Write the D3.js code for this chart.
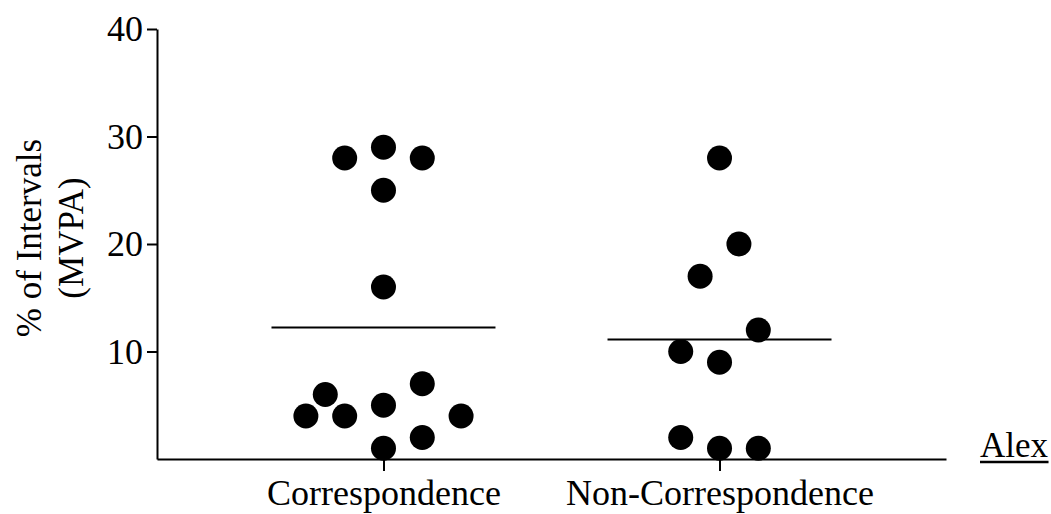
<!DOCTYPE html>
<html>
<head>
<meta charset="utf-8">
<script src="https://cdn.jsdelivr.net/npm/d3@7"></script>
<style>
  html, body { margin: 0; padding: 0; background: #fff; }
  svg { display: block; }
  text { font-family: "Liberation Serif", "Times New Roman", serif; fill: #000; }
</style>
</head>
<body>
<svg id="chart" width="1051" height="514"></svg>
<script>
// ---- data ----
const categories = ["Correspondence", "Non-Correspondence"];
const correspondenceValues = [29, 28, 28, 25, 16, 7, 6, 5, 4, 4, 4, 2, 1];
const correspondenceJitter = [0, -2, 2, 0, 0, 2, -3, 0, -4, -2, 4, 2, 0];
const nonCorrespondenceValues = [28, 20, 17, 12, 10, 9, 2, 1, 1];
const nonCorrespondenceJitter = [0, 1, -1, 2, -2, 0, -2, 0, 2];
const yTickValues = [10, 20, 30, 40];
const yTitleLines = ["% of Intervals", "(MVPA)"];
const subjectLabel = "Alex";

const groups = [
  { cat: categories[0], values: correspondenceValues, jitter: correspondenceJitter },
  { cat: categories[1], values: nonCorrespondenceValues, jitter: nonCorrespondenceJitter }
];

// ---- layout ----
const svg = d3.select("#chart");
const fontSize = 35;
const tickFontSize = 36;

const y = d3.scaleLinear().domain([0, 40]).range([459, 29]);
const x = d3.scalePoint().domain(categories).range([157, 946]).padding(0.674);
const jit = d3.scaleLinear().domain([0, 1]).range([0, 19.4]);
const meanHalf = 112;
const r = 12.5;

// y axis
const yAxis = svg.append("g")
  .attr("transform", "translate(157,0)")
  .call(d3.axisLeft(y).tickValues(yTickValues).tickSize(10).tickSizeOuter(0).tickPadding(4));
yAxis.select(".domain").attr("stroke", "#000").attr("stroke-width", 2);
yAxis.selectAll(".tick line").attr("stroke", "#000").attr("stroke-width", 2);
yAxis.selectAll(".tick text")
  .style("font-family", '"Liberation Serif", "Times New Roman", serif')
  .style("font-size", tickFontSize + "px").attr("fill", "#000");

// x axis
const xAxis = svg.append("g")
  .attr("transform", "translate(0,459)")
  .call(d3.axisBottom(x).tickSize(12).tickSizeOuter(0).tickPadding(8));
xAxis.select(".domain").attr("stroke", "#000").attr("stroke-width", 2);
xAxis.selectAll(".tick line").attr("stroke", "#000").attr("stroke-width", 2);
xAxis.selectAll(".tick text")
  .style("font-family", '"Liberation Serif", "Times New Roman", serif')
  .style("font-size", tickFontSize + "px").attr("fill", "#000");

// y title
const yTitle = svg.append("text")
  .attr("transform", "translate(41,238) rotate(-90)")
  .attr("text-anchor", "middle")
  .style("font-size", fontSize + "px");
yTitle.selectAll("tspan").data(yTitleLines).join("tspan")
  .attr("x", 0)
  .attr("dy", (d, i) => i === 0 ? 0 : "1.2em")
  .text(d => d);

// points + mean lines
groups.forEach(g => {
  const cx = x(g.cat);
  svg.append("g").selectAll("circle")
    .data(g.values.map((v, i) => ({ v, j: g.jitter[i] })))
    .join("circle")
    .attr("cx", d => cx + jit(d.j))
    .attr("cy", d => y(d.v))
    .attr("r", r)
    .attr("fill", "#000");
  const m = d3.mean(g.values);
  svg.append("line")
    .attr("x1", cx - meanHalf).attr("x2", cx + meanHalf)
    .attr("y1", y(m)).attr("y2", y(m))
    .attr("stroke", "#000").attr("stroke-width", 2);
});

// subject label with underline
const lab = svg.append("text")
  .attr("x", 980).attr("y", 457)
  .style("font-size", fontSize + "px")
  .text(subjectLabel);
const bb = lab.node().getBBox();
svg.append("line")
  .attr("x1", bb.x).attr("x2", bb.x + bb.width)
  .attr("y1", 462).attr("y2", 462)
  .attr("stroke", "#000").attr("stroke-width", 2.5);
</script>
</body>
</html>
